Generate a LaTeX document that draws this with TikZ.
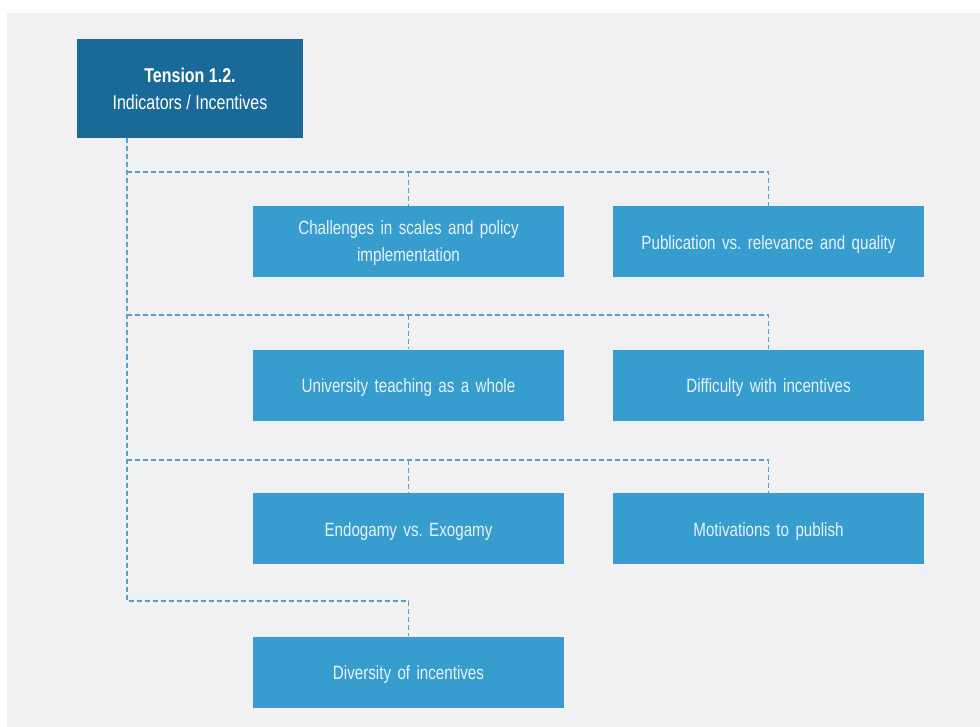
\documentclass[tikz,border=0pt]{standalone}
\usepackage{fontspec}
\setmainfont[FakeStretch=0.79]{Liberation Sans}
\newfontfamily\headfont[FakeStretch=0.8]{Liberation Sans}
\usetikzlibrary{positioning}
\definecolor{pagebg}{HTML}{F1F1F3}
\definecolor{headblue}{HTML}{1A6A99}
\definecolor{boxblue}{HTML}{379CCE}
\definecolor{linkblue}{HTML}{52A1C9}
\definecolor{boxtext}{HTML}{E8F3FA}
\tikzset{
  head/.style={fill=headblue, text=white, minimum width=226pt, minimum height=99pt,
    inner sep=0pt, align=center, font=\headfont\fontsize{20}{27}\selectfont},
  item/.style={fill=boxblue, text=boxtext, minimum width=311pt, minimum height=71pt,
    inner sep=0pt, align=center, text width=295pt, font=\fontsize{19.2}{27}\selectfont}, 
  conn/.style={draw=linkblue, line width=1.5pt, dash pattern=on 5pt off 3pt}
}
% lower the text inside a box without changing the box's reported size
\newcommand{\boxline}[2][3pt]{\raisebox{-#1}[\height][\depth]{\parbox{295pt}{\centering #2}}}
\frenchspacing
\begin{document}
\begin{tikzpicture}[x=1pt, y=-1pt]
  % page frame and background
  \fill[white] (0,0) rectangle (980,727);
  \fill[pagebg] (7,13) rectangle (980,727);
  \useasboundingbox (0,0) rectangle (980,727);

  % header
  \node[head] (hdr) at (190,88.5) {\textbf{Tension 1.2.}\\Indicators / Incentives};

  % items
  \node[item] (a1) at (408.5,241.5) {\boxline[2pt]{Challenges in scales and policy\\implementation}};
  \node[item] (b1) at (768.5,241.5) {\boxline{Publication vs. relevance and quality}};
  \node[item] (a2) at (408.5,385) {\boxline{University teaching as a whole}};
  \node[item] (b2) at (768.5,385) {\boxline{Difficulty with incentives}};
  \node[item] (a3) at (408.5,528.5) {\boxline{Endogamy vs. Exogamy}};
  \node[item] (b3) at (768.5,528.5) {\boxline{Motivations to publish}};
  \node[item] (a4) at (408.5,672) {\boxline{Diversity of incentives}};

  % junction points on the trunk
  \coordinate (top) at (127,138.5);
  \coordinate (j1) at (127,172);
  \coordinate (j2) at (127,315);
  \coordinate (j3) at (127,460);
  \coordinate (j4) at (127,601);

  % trunk and branches
  \draw[conn] (top) -- (j4) -| (a4.north);
  \draw[conn] (j1) -| (b1.north);
  \draw[conn] (a1.north |- j1) -- (a1.north);
  \draw[conn] (j2) -| (b2.north);
  \draw[conn] (a2.north |- j2) -- (a2.north);
  \draw[conn] (j3) -| (b3.north);
  \draw[conn] (a3.north |- j3) -- (a3.north);
\end{tikzpicture}
\end{document}
